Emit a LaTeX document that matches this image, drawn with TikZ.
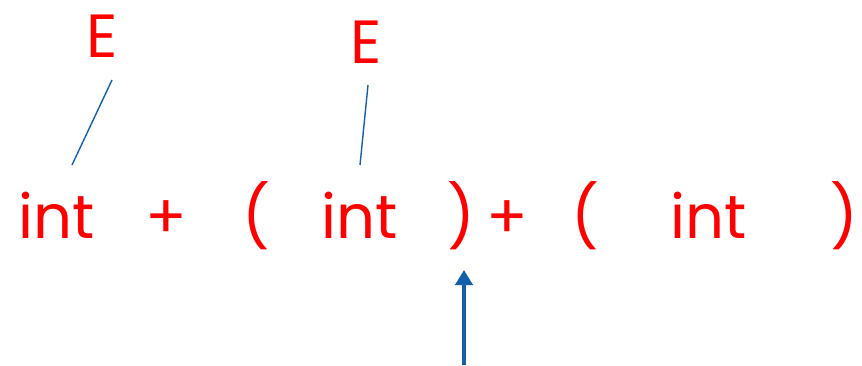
\documentclass[tikz,border=0pt]{standalone}
\usepackage{fontspec}
\setmainfont{Poppins}
\usetikzlibrary{arrows.meta}
\definecolor{tokred}{RGB}{255,0,0}
\definecolor{linkblue}{RGB}{20,95,170}
\begin{document}
\begin{tikzpicture}[x=1pt,y=-1pt,
  tok/.style={text=tokred,font=\fontsize{61}{61}\selectfont,inner sep=0pt,anchor=base},
  link/.style={draw=linkblue,line width=1.4pt},
  pointer/.style={draw=linkblue,line width=4pt,-{Triangle[width=17pt,length=15pt]}}]
\useasboundingbox (0,0) rectangle (862,365);
\node[tok] (int1) at (56.5,238) {int};
\node[tok] (plus1) at (166.5,238) {+};
\node[tok] (lp1) at (256,238) {(};
\node[tok] (int2) at (360,238) {int};
\node[tok] (rp1) at (461,238) {)};
\node[tok] (plus2) at (507,238) {+};
\node[tok] (lp2) at (585,238) {(};
\node[tok] (int3) at (709,238) {int};
\node[tok] (rp2) at (844.5,238) {)};
\node[tok] (E1) at (102,57) {E};
\node[tok] (E2) at (366,63) {E};
\coordinate (l1a) at (112,80);
\coordinate (l1b) at (72,165);
\coordinate (l2a) at (368,85);
\coordinate (l2b) at (360,165);
\coordinate (ptail) at (464,365);
\coordinate (ptip) at (464,270);
\draw[link] (l1a) -- (l1b);
\draw[link] (l2a) -- (l2b);
\draw[pointer] (ptail) -- (ptip);
\end{tikzpicture}
\end{document}
